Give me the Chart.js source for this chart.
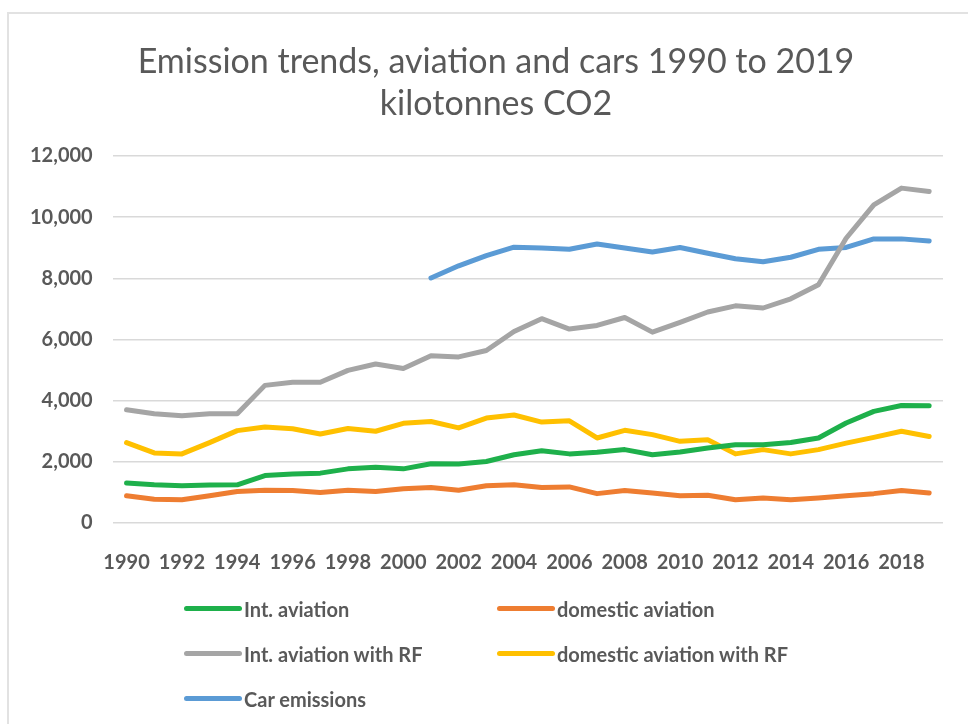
<!DOCTYPE html>
<html>
<head>
<meta charset="utf-8">
<script src="https://cdn.jsdelivr.net/npm/chart.js@4.4.1/dist/chart.umd.min.js"></script>
<style>
body{margin:0;background:#fff;font-family:Lato,sans-serif}
#wrap{position:relative;width:968px;height:724px;overflow:hidden}
#frame{position:absolute;left:7px;top:12px;width:2000px;height:2000px;border-top:2px solid #e2e2e2;border-left:2px solid #e2e2e2}
#chart{position:absolute;left:0;top:0}
#title{position:absolute;left:0;top:39px;width:992px;text-align:center;font-size:34px;line-height:42px;color:#595959}
#legend{position:absolute;left:184px;top:586px;display:grid;grid-template-columns:313px 313px;grid-auto-rows:45px}
.item{display:flex;align-items:center;font-size:20px;font-weight:bold;color:#595959}
.item span.sw{display:inline-block;width:58px;height:5px;border-radius:3px;margin-right:2px}
</style>
</head>
<body>
<div id="wrap">
<div id="frame"></div>
<canvas id="chart" width="968" height="724"></canvas>
<div id="title"></div>
<div id="legend"></div>
</div>
<script>
// categories
const years=["1990","1991","1992","1993","1994","1995","1996","1997","1998","1999","2000","2001","2002","2003","2004","2005","2006","2007","2008","2009","2010","2011","2012","2013","2014","2015","2016","2017","2018","2019"]

// series, kilotonnes CO2
const intAviation=[1310,1250,1220,1240,1250,1550,1600,1630,1770,1820,1770,1940,1930,2010,2230,2360,2260,2310,2400,2230,2320,2450,2560,2560,2630,2780,3270,3650,3840,3830]
const domesticAviation=[890,780,760,890,1030,1070,1060,1000,1070,1030,1120,1160,1070,1220,1250,1160,1180,960,1060,980,890,910,760,820,760,820,890,960,1060,980]
const intAviationRF=[3700,3570,3510,3570,3570,4500,4600,4600,4990,5200,5050,5470,5430,5640,6260,6680,6340,6460,6720,6240,6560,6900,7100,7030,7330,7790,9310,10400,10950,10840]
const domesticAviationRF=[2630,2290,2260,2630,3020,3140,3080,2910,3090,3000,3260,3320,3110,3430,3530,3300,3340,2780,3030,2890,2670,2720,2260,2400,2260,2400,2610,2800,3000,2830]
const carEmissions=[null,null,null,null,null,null,null,null,null,null,null,8010,8410,8740,9020,8990,8950,9120,8990,8860,9010,8820,8640,8540,8690,8950,9010,9290,9290,9220]

// y ticks
const yTicks=[0,2000,4000,6000,8000,10000,12000]

const titleLines=["Emission trends, aviation and cars 1990 to 2019","kilotonnes CO2"]

function line(label,data,color){
return {label:label,data:data,borderColor:color,backgroundColor:color,borderWidth:5,pointRadius:0,tension:0,fill:false,borderJoinStyle:"round",borderCapStyle:"round",spanGaps:false}
}

document.getElementById("title").innerHTML=titleLines.join("<br>")

const chart=new Chart(document.getElementById("chart"),{
type:"line",
data:{
labels:years,
datasets:[
line("Int. aviation",intAviation,"#1eb04b"),
line("domestic aviation",domesticAviation,"#ee7d31"),
line("Int. aviation with RF",intAviationRF,"#a5a5a5"),
line("domestic aviation with RF",domesticAviationRF,"#ffc000"),
line("Car emissions",carEmissions,"#5b9bd5")
]
},
options:{
responsive:false,
animation:false,
devicePixelRatio:1,
layout:{padding:{left:0,right:25,top:156,bottom:151}},
plugins:{
legend:{display:false},
tooltip:{enabled:false},
title:{display:false}
},
scales:{
x:{
offset:true,
grid:{display:false},
border:{display:false},
afterFit:s=>{s.height=50},
ticks:{
autoSkip:false,maxRotation:0,minRotation:0,padding:20,
color:"#595959",
font:{family:"Lato",size:20,weight:"bold"},
callback:function(v,i){return i%2===0?this.getLabelForValue(v):""}
}
},
y:{
min:0,max:12000,
afterFit:s=>{s.width=112.7},
afterBuildTicks:s=>{s.ticks=yTicks.map(v=>({value:v}))},
grid:{color:"#d9d9d9",lineWidth:1.5,drawTicks:false},
border:{display:false},
ticks:{
padding:20,
color:"#595959",
font:{family:"Lato",size:20,weight:"bold"},
callback:v=>v.toLocaleString("en-US")
}
}
}
}
})

// legend in two columns
const legend=document.getElementById("legend")
chart.data.datasets.forEach(ds=>{
let d=document.createElement("div")
d.className="item"
d.innerHTML='<span class="sw" style="background:'+ds.borderColor+'"></span>'+ds.label
legend.appendChild(d)
})
</script>
</body>
</html>
